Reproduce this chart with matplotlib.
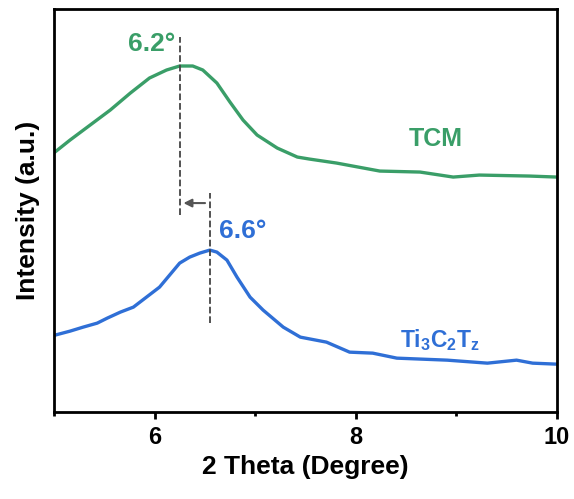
import matplotlib
matplotlib.use("Agg")
import matplotlib.pyplot as plt
from matplotlib.ticker import MultipleLocator

plt.rcParams['font.family'] = ['Liberation Sans', 'DejaVu Sans']
plt.rcParams['font.weight'] = 'bold'
plt.rcParams['mathtext.fontset'] = 'custom'
plt.rcParams['mathtext.rm'] = 'Liberation Sans:bold'
plt.rcParams['mathtext.it'] = 'Liberation Sans:bold'
plt.rcParams['mathtext.bf'] = 'Liberation Sans:bold'

# TCM curve (2 theta, intensity a.u.)
tcm_x = [5.01, 5.16, 5.36, 5.56, 5.76, 5.95, 6.12, 6.25, 6.38, 6.48, 6.62, 6.75,
         6.88, 7.02, 7.22, 7.42, 7.54, 7.81, 8.24, 8.64, 8.97, 9.23, 9.73, 10.0]
tcm_y = [260, 272, 287, 302, 319, 334, 342, 346, 346, 342, 329, 310,
         292, 277, 264, 255, 253, 249, 241, 240, 235, 237, 236, 235]

# Ti3C2Tz curve
ti_x = [5.01, 5.16, 5.29, 5.43, 5.53, 5.66, 5.79, 5.92, 6.05, 6.15, 6.25, 6.35,
        6.45, 6.55, 6.62, 6.72, 6.82, 6.95, 7.08, 7.28, 7.45, 7.71, 7.94, 8.17,
        8.41, 8.91, 9.31, 9.60, 9.76, 10.0]
ti_y = [77, 81, 85, 89, 94, 100, 105, 115, 125, 137, 149, 155,
        159, 162, 160, 152, 135, 115, 102, 85, 75, 70, 60, 59,
        54, 52, 49, 52, 49, 48]

green = '#3a9e68'
blue = '#2f6fd6'

fig = plt.figure(figsize=(5.74, 4.99), dpi=100)
ax = fig.add_axes([0.094, 0.174, 0.876, 0.808])

ax.plot(tcm_x, tcm_y, color=green, lw=2.4, solid_joinstyle='round')
ax.plot(ti_x, ti_y, color=blue, lw=2.4, solid_joinstyle='round')

# peak markers
ax.plot([6.25, 6.25], [197, 375], ls='--', color='#444444', lw=1.3)
ax.plot([6.55, 6.55], [89, 219], ls='--', color='#444444', lw=1.3)
ax.annotate('', xy=(6.26, 209), xytext=(6.53, 209),
            arrowprops=dict(arrowstyle='-|>', color='#555555', lw=1.5, mutation_scale=12))

ax.text(6.21, 368, '6.2°', color=green, fontsize=19, fontweight='bold', ha='right', va='center')
ax.text(6.64, 181, '6.6°', color=blue, fontsize=19, fontweight='bold', ha='left', va='center')
ax.text(8.80, 273, 'TCM', color=green, fontsize=18, fontweight='bold', ha='center', va='center')
ax.text(8.84, 72, r'Ti$_\mathrm{3}$C$_\mathrm{2}$T$_\mathrm{z}$', color=blue, fontsize=16.5,
        fontweight='bold', ha='center', va='center')

ax.set_xlim(5, 10)
ax.set_ylim(0, 403)
ax.set_yticks([])
ax.xaxis.set_major_locator(MultipleLocator(2))
ax.xaxis.set_minor_locator(MultipleLocator(1))
ax.tick_params(axis='x', which='major', direction='out', length=5, width=2, labelsize=17, pad=5)
ax.tick_params(axis='x', which='minor', direction='out', length=3, width=2)
for s in ax.spines.values():
    s.set_linewidth(2)

ax.set_xlabel('2 Theta (Degree)', fontsize=19, fontweight='bold', labelpad=4)
ax.set_ylabel('Intensity (a.u.)', fontsize=19, fontweight='bold', labelpad=10)

fig.savefig('out.png', dpi=100)
